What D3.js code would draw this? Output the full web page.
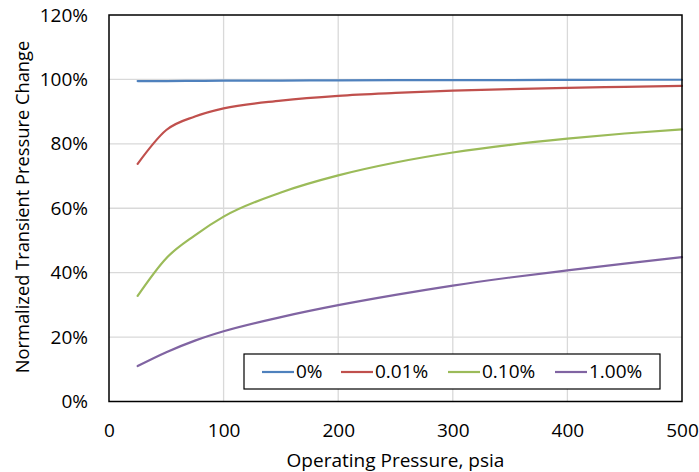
<!DOCTYPE html>
<html>
<head>
<meta charset="utf-8">
<script src="https://cdn.jsdelivr.net/npm/d3@7"></script>
<style>
  html, body { margin: 0; padding: 0; background: #fff; }
  svg text { font-family: "Open Sans", "Noto Sans", sans-serif; fill: #000; }
</style>
</head>
<body>
<svg id="chart" width="699" height="472"></svg>
<script>
const pressures = [25, 50, 75, 100, 150, 200, 250, 300, 350, 400, 450, 500];
const seriesNames = ["0%", "0.01%", "0.10%", "1.00%"];
const series0 = [99.5, 99.5, 99.55, 99.6, 99.65, 99.7, 99.75, 99.8, 99.8, 99.85, 99.9, 99.9];
const series001 = [73.8, 84.3, 88.5, 91.0, 93.4, 94.9, 95.8, 96.5, 97.0, 97.4, 97.7, 98.0];
const series010 = [32.8, 44.5, 51.6, 57.4, 64.9, 70.2, 74.2, 77.3, 79.7, 81.6, 83.2, 84.5];
const series100 = [11.0, 15.3, 18.9, 21.8, 26.2, 29.9, 33.1, 36.0, 38.5, 40.7, 42.8, 44.8];
const seriesColors = ["#4f81bd", "#c0504d", "#9bbb59", "#8064a2"];
const xTicks = [0, 100, 200, 300, 400, 500];
const yTicks = [0, 20, 40, 60, 80, 100, 120];

const allSeries = [series0, series001, series010, series100];

const svg = d3.select("#chart");
const pLeft = 109, pRight = 682, pTop = 15, pBottom = 401.5;
const fs = "19px";

const x = d3.scaleLinear().domain([0, 500]).range([pLeft, pRight]);
const y = d3.scaleLinear().domain([0, 120]).range([pBottom, pTop]);

// gridlines
svg.append("g").selectAll("line").data(xTicks.filter(d => d > 0 && d < 500)).join("line")
  .attr("x1", d => x(d)).attr("x2", d => x(d)).attr("y1", pTop).attr("y2", pBottom)
  .attr("stroke", "#d9d9d9").attr("stroke-width", 1.3);
svg.append("g").selectAll("line").data(yTicks.filter(d => d > 0 && d < 120)).join("line")
  .attr("x1", pLeft).attr("x2", pRight).attr("y1", d => y(d)).attr("y2", d => y(d))
  .attr("stroke", "#d9d9d9").attr("stroke-width", 1.3);

// lines
const line = d3.line().x((d, i) => x(pressures[i])).y(d => y(d)).curve(d3.curveMonotoneX);
allSeries.forEach((s, k) => {
  svg.append("path").datum(s).attr("d", line)
    .attr("fill", "none").attr("stroke", seriesColors[k]).attr("stroke-width", 2.2)
    .attr("stroke-linejoin", "round").attr("stroke-linecap", "round");
});

// plot border
svg.append("rect").attr("x", pLeft).attr("y", pTop).attr("width", pRight - pLeft).attr("height", pBottom - pTop)
  .attr("fill", "none").attr("stroke", "#000").attr("stroke-width", 1.5);

// axes (labels only)
const xAxis = d3.axisBottom(x).tickValues(xTicks).tickSize(0).tickPadding(22);
const gx = svg.append("g").attr("transform", `translate(0,${pBottom})`).call(xAxis);
gx.select(".domain").remove();
gx.selectAll("text").style("font-size", fs).style("font-family", '"Open Sans", sans-serif');

const yAxis = d3.axisLeft(y).tickValues(yTicks).tickSize(0).tickPadding(21).tickFormat(d => d + "%");
const gy = svg.append("g").attr("transform", `translate(${pLeft},0)`).call(yAxis);
gy.select(".domain").remove();
gy.selectAll("text").style("font-size", fs).style("font-family", '"Open Sans", sans-serif');

// axis titles
svg.append("text").attr("x", (pLeft + pRight) / 2).attr("y", 467).attr("text-anchor", "middle")
  .style("font-size", fs).text("Operating Pressure, psia");
svg.append("text").attr("transform", `translate(28.5,207) rotate(-90)`)
  .attr("text-anchor", "middle").style("font-size", "18.3px").text("Normalized Transient Pressure Change");

// legend
const lg = svg.append("g");
lg.append("rect").attr("x", 244).attr("y", 354).attr("width", 416).attr("height", 35)
  .attr("fill", "#fff").attr("stroke", "#000").attr("stroke-width", 1.2);
const legendX = [262, 341, 448, 555];
seriesNames.forEach((n, k) => {
  lg.append("line").attr("x1", legendX[k]).attr("x2", legendX[k] + 32).attr("y1", 372).attr("y2", 372)
    .attr("stroke", seriesColors[k]).attr("stroke-width", 2.2);
  lg.append("text").attr("x", legendX[k] + 34).attr("y", 378).style("font-size", fs).text(n);
});
</script>
</body>
</html>
